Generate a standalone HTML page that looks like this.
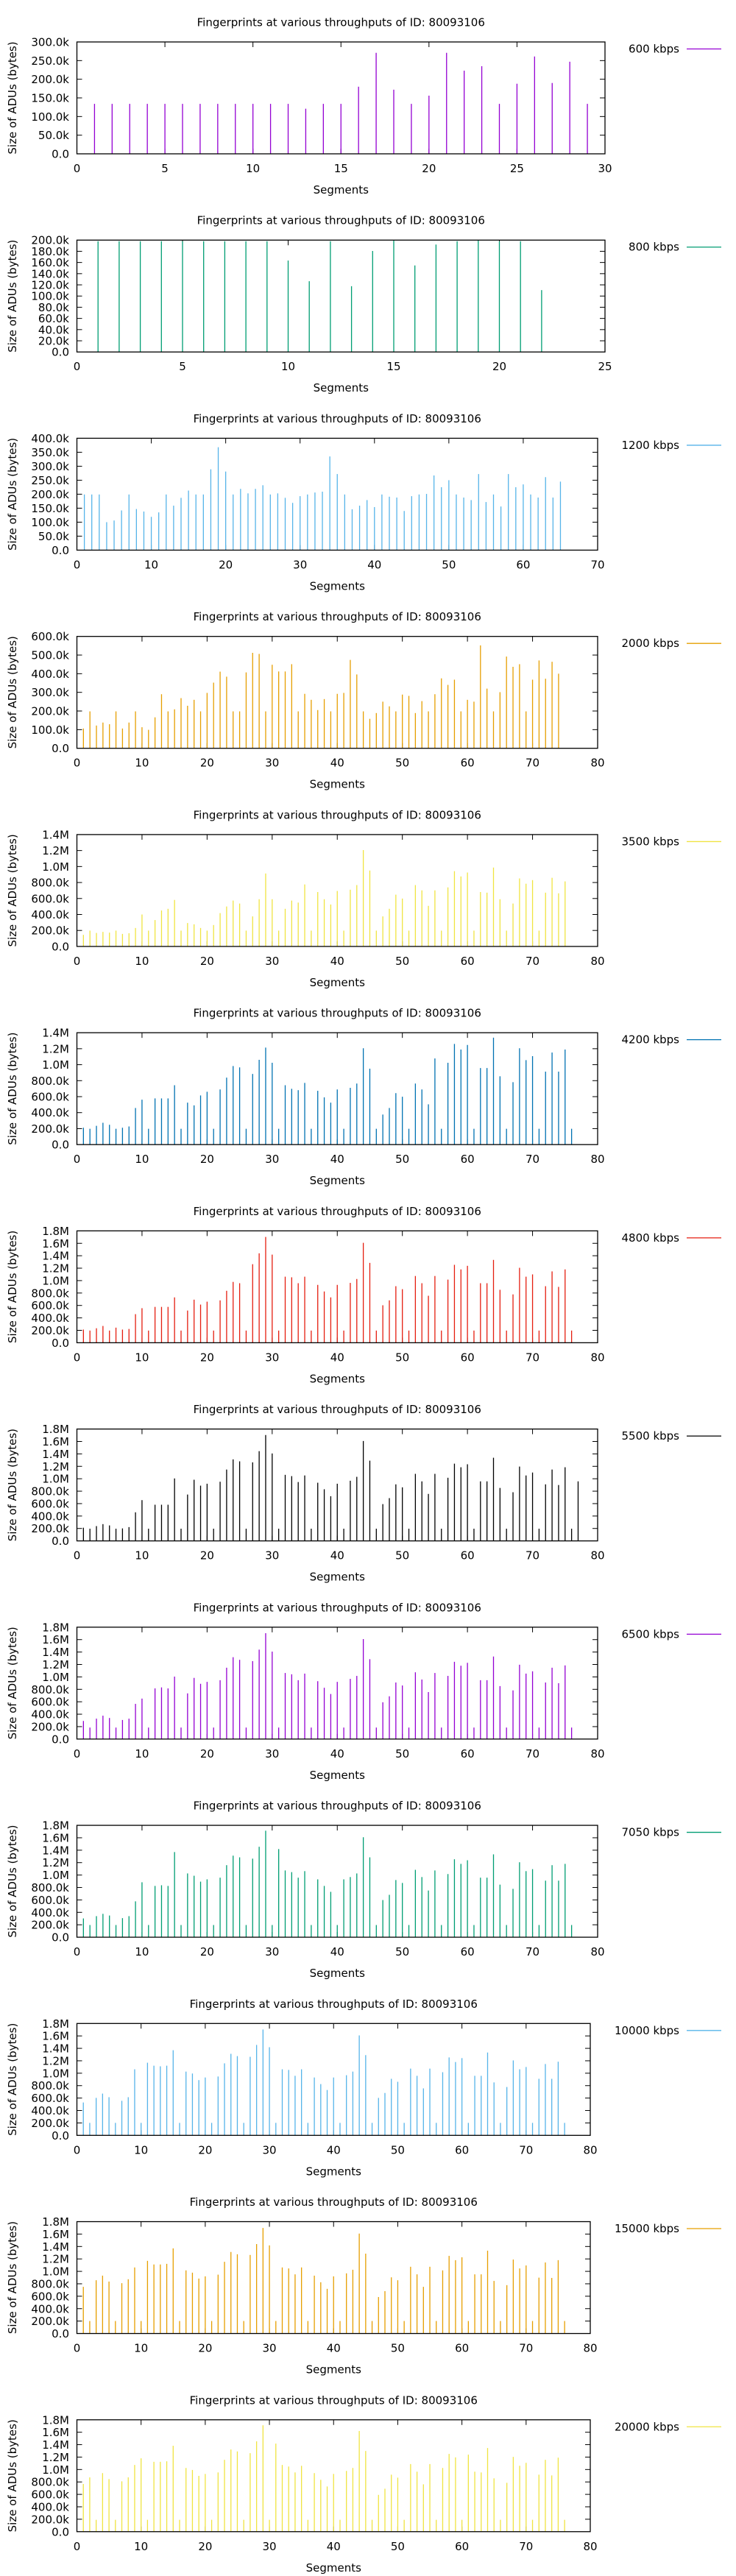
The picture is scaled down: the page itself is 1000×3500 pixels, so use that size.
<!DOCTYPE html>
<html><head><meta charset="utf-8">
<style>
html,body{margin:0;padding:0;background:#fff;}
svg{display:block;font-family:"DejaVu Sans","Liberation Sans",sans-serif;}
</style></head>
<body>
<svg id="chart" width="1000" height="3500" viewBox="0 0 1000 3500" xmlns="http://www.w3.org/2000/svg"></svg>
<script>
// Series values (k bytes), segment index = position + 1
const p600 = [134,134,134,134,134,134,134,134,134,134,134,134,121,134,134,180,271,172,134,156,271,223,235,134,188,261,190,247,134];
const p800 = [198,198,198,198,198,198,198,198,198,163.5,126.5,198,117.6,180.6,200,154.7,192,198,200,198,198,110.6];
const p1200 = [199,199,199,100,106,142,199,147,138,119,135,199,159,187,213,199,199,289,368,281,199,219,203,219,232,199,203,187,169,193,199,206,209,335,272,199,146,159,179,154,199,191,188,140,193,199,201,267,225,250,199,188,179,272,172,199,156,272,225,235,199,188,261,188,245];
const p2000 = [106,198,122,138,129,198,106,138,198,113,99,166,290,198,209,269,228,260,198,297,352,411,384,198,198,407,512,506,198,448,412,412,451,198,292,260,205,264,198,292,297,474,396,198,158,189,250,225,198,288,281,189,253,198,290,375,340,368,198,260,250,552,320,198,301,492,437,451,198,368,471,373,464,400];
const p3500 = [145,198,169,182,173,198,157,165,231,400,198,330,450,471,582,198,293,277,231,198,268,417,500,574,537,198,376,591,913,591,198,471,574,549,776,198,681,591,525,694,198,710,768,1206,950,198,376,471,648,599,198,768,702,508,702,198,739,942,876,925,198,681,673,987,591,198,537,851,785,830,198,673,859,665,814];
const p4200 = [211,198,235,273,248,198,211,227,458,562,198,578,578,578,743,198,525,491,615,661,198,690,838,983,966,198,884,1061,1214,1024,198,743,698,681,772,198,673,591,525,690,198,710,764,1206,950,198,376,458,644,599,198,764,690,504,1078,198,1024,1260,1189,1247,198,958,958,1338,855,198,781,1206,1057,1107,198,913,1152,913,1189,198];
const p4800 = [212,196,233,270,196,243,212,222,460,556,196,577,577,577,730,196,518,693,614,661,196,682,836,979,958,196,1264,1439,1703,1418,196,1063,1053,958,1063,196,931,825,730,931,196,963,1026,1608,1285,196,603,682,910,862,196,1074,958,756,1074,196,1016,1254,1180,1238,196,958,958,1333,852,196,778,1206,1063,1100,196,910,1148,899,1180,196];
const p5500 = [212,196,238,270,249,196,201,222,460,656,196,582,582,582,1005,196,746,984,889,920,196,952,1148,1312,1280,196,1264,1444,1703,1407,196,1063,1042,947,1053,196,936,831,719,920,196,968,1031,1608,1291,196,592,688,910,862,196,1079,958,756,1079,196,1016,1243,1185,1233,196,958,958,1338,852,196,783,1196,1053,1100,196,910,1148,899,1185,196,958];
const p6500 = [291,185,328,376,339,185,307,328,566,651,185,815,831,815,1005,185,735,984,889,920,185,947,1148,1317,1275,185,1254,1439,1703,1407,185,1063,1042,947,1053,185,931,825,725,920,185,968,1016,1608,1285,185,592,688,910,862,185,1074,958,756,1063,185,1016,1243,1180,1227,185,947,947,1328,852,185,783,1196,1053,1090,185,910,1148,899,1185,185];
const p7050 = [302,196,339,376,349,196,307,339,577,884,196,825,836,825,1370,196,1026,989,894,931,196,958,1159,1312,1285,196,1264,1455,1714,196,1418,1074,1047,958,1063,196,931,825,730,196,931,968,1026,1608,1285,196,598,682,920,873,196,1084,968,751,1074,196,1016,1254,1180,1238,196,958,958,1333,846,196,778,1206,1063,1095,196,910,1159,910,1180,196];
const p10000 = [529,201,603,672,614,201,556,614,1063,201,1169,1121,1111,1121,1370,201,1026,995,889,931,201,947,1159,1312,1275,201,1264,1455,1703,1418,201,1063,1053,958,1063,201,931,825,730,931,201,968,1026,1608,1291,201,603,682,910,862,201,1074,958,756,1074,201,1016,1254,1180,1243,201,958,958,1333,852,201,778,1206,1063,1100,201,910,1148,910,1185,201];
const p15000 = [751,201,857,931,836,201,810,873,1063,201,1169,1111,1111,1121,1370,201,1016,979,884,920,201,947,1154,1312,1275,201,1264,1439,1698,1418,201,1063,1047,952,1063,201,931,825,719,920,201,968,1026,1608,1285,201,587,682,904,857,201,1074,952,751,1074,201,1016,1249,1180,1227,201,952,952,1333,846,201,778,1190,1047,1095,201,899,1143,894,1180,201];
const p20000 = [767,874,191,942,846,191,810,874,1073,1180,191,1124,1124,1132,1382,191,1025,993,898,929,191,953,1156,1322,1291,191,1263,1453,1711,191,1417,1073,1048,953,1060,191,942,834,727,929,191,977,1025,1620,1298,191,592,691,917,869,191,1088,965,762,1088,191,1025,1251,1195,191,1239,965,953,1346,858,191,786,1203,1060,1108,191,917,1156,905,1191,191];

// Legend labels and axis tick labels
const legendLabels = ["600 kbps","800 kbps","1200 kbps","2000 kbps","3500 kbps","4200 kbps","4800 kbps","5500 kbps","6500 kbps","7050 kbps","10000 kbps","15000 kbps","20000 kbps"];
const yTicks300 = ["0.0","50.0k","100.0k","150.0k","200.0k","250.0k","300.0k"];
const yTicks200 = ["0.0","20.0k","40.0k","60.0k","80.0k","100.0k","120.0k","140.0k","160.0k","180.0k","200.0k"];
const yTicks400 = ["0.0","50.0k","100.0k","150.0k","200.0k","250.0k","300.0k","350.0k","400.0k"];
const yTicks600 = ["0.0","100.0k","200.0k","300.0k","400.0k","500.0k","600.0k"];
const yTicks1400 = ["0.0","200.0k","400.0k","600.0k","800.0k","1.0M","1.2M","1.4M"];
const yTicks1800 = ["0.0","200.0k","400.0k","600.0k","800.0k","1.0M","1.2M","1.4M","1.6M","1.8M"];

const NS = "http://www.w3.org/2000/svg";
const svg = document.getElementById('chart');
function mk(tag, attrs, parent){
  const e = document.createElementNS(NS, tag);
  for (const k in attrs) e.setAttribute(k, attrs[k]);
  (parent||svg).appendChild(e);
  return e;
}
const panels = [
  {data:p600,  color:"#9400d3", ymax:300,  yt:yTicks300,  xmax:30, xstep:5,  right:822},
  {data:p800,  color:"#009e73", ymax:200,  yt:yTicks200,  xmax:25, xstep:5,  right:822},
  {data:p1200, color:"#56b4e9", ymax:400,  yt:yTicks400,  xmax:70, xstep:10, right:812},
  {data:p2000, color:"#e69f00", ymax:600,  yt:yTicks600,  xmax:80, xstep:10, right:812},
  {data:p3500, color:"#f0e442", ymax:1400, yt:yTicks1400, xmax:80, xstep:10, right:812},
  {data:p4200, color:"#0072b2", ymax:1400, yt:yTicks1400, xmax:80, xstep:10, right:812},
  {data:p4800, color:"#e51e10", ymax:1800, yt:yTicks1800, xmax:80, xstep:10, right:812},
  {data:p5500, color:"#000000", ymax:1800, yt:yTicks1800, xmax:80, xstep:10, right:812},
  {data:p6500, color:"#9400d3", ymax:1800, yt:yTicks1800, xmax:80, xstep:10, right:812},
  {data:p7050, color:"#009e73", ymax:1800, yt:yTicks1800, xmax:80, xstep:10, right:812},
  {data:p10000,color:"#56b4e9", ymax:1800, yt:yTicks1800, xmax:80, xstep:10, right:802},
  {data:p15000,color:"#e69f00", ymax:1800, yt:yTicks1800, xmax:80, xstep:10, right:802},
  {data:p20000,color:"#f0e442", ymax:1800, yt:yTicks1800, xmax:80, xstep:10, right:802}
];
const LEFT = 104.5, H = 152, PITCH = 269.23;
panels.forEach((p, i) => {
  const top = 57 + PITCH*i, bottom = top + H, right = p.right;
  const g = mk('g', {});
  
  
  const xs = v => LEFT + (right-LEFT) * v / p.xmax;
  const ys = v => bottom - H * v / p.ymax;
  const t = mk('text', {x:(LEFT+right)/2, y:top-21.5, 'text-anchor':'middle', 'font-size':'15', fill:'#000'}, g);
  t.textContent = 'Fingerprints at various throughputs of ID: 80093106';
  
  
  // y ticks
  const ystep = p.ymax / (p.yt.length-1);
  p.yt.forEach((lab, j) => {
    const y = ys(j*ystep);
    if (j>0 && j<p.yt.length-1) {
      mk('line', {x1:LEFT, x2:LEFT+7, y1:y, y2:y, stroke:'#000', 'stroke-width':1}, g);
      mk('line', {x1:right, x2:right-7, y1:y, y2:y, stroke:'#000', 'stroke-width':1}, g);
    }
    const tl = mk('text', {x:94, y:y+5.5, 'text-anchor':'end', 'font-size':'15', fill:'#000'}, g);
    tl.textContent = lab;
    
    
  });
  // x ticks
  for (let v=0; v<=p.xmax; v+=p.xstep) {
    const x = xs(v);
    if (v>0 && v<p.xmax) {
      mk('line', {x1:x, x2:x, y1:bottom, y2:bottom-7, stroke:'#000', 'stroke-width':1}, g);
      mk('line', {x1:x, x2:x, y1:top, y2:top+7, stroke:'#000', 'stroke-width':1}, g);
    }
    const tl = mk('text', {x:x, y:bottom+25, 'text-anchor':'middle', 'font-size':'15', fill:'#000'}, g);
    tl.textContent = String(v);
    
    
  }
  // bars
  p.data.forEach((v, j) => {
    const x = xs(j+1);
    const b = mk('line', {x1:x, x2:x, y1:bottom, y2:ys(v), stroke:p.color, 'stroke-width':1.3}, g);
    
    
  });
  // frame
  const fr = mk('rect', {x:LEFT, y:top, width:right-LEFT, height:H, fill:'none', stroke:'#000', 'stroke-width':1.3}, g);
  
  
  // axis titles
  const xl = mk('text', {x:(LEFT+right)/2, y:bottom+54, 'text-anchor':'middle', 'font-size':'15', fill:'#000'}, g);
  xl.textContent = 'Segments';
  
  
  const cy = (top+bottom)/2;
  const yl = mk('text', {x:0, y:0, transform:'translate(22,'+cy+') rotate(-90)', 'text-anchor':'middle', 'font-size':'15', fill:'#000'}, g);
  yl.textContent = 'Size of ADUs (bytes)';
  
  
  // legend
  const lg = mk('g', {}, g);
  
  
  const lt = mk('text', {x:923, y:top+14.5, 'text-anchor':'end', 'font-size':'15', fill:'#000'}, lg);
  lt.textContent = legendLabels[i];
  mk('line', {x1:933, x2:980, y1:top+9.5, y2:top+9.5, stroke:p.color, 'stroke-width':1.3}, lg);
});
</script>
</body></html>
